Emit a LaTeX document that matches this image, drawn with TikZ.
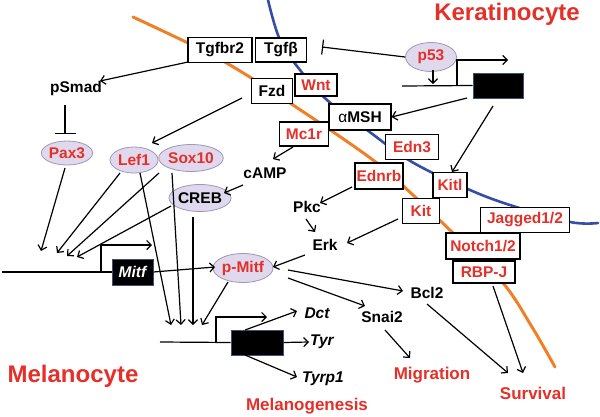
\documentclass[tikz,border=0pt]{standalone}
\usepackage{fontspec}
\setmainfont{Liberation Sans}
\usetikzlibrary{arrows.meta,shapes.geometric,calc}
\definecolor{myred}{RGB}{228,48,40}
\definecolor{myorange}{RGB}{240,128,40}
\definecolor{myblue}{RGB}{52,78,165}
\definecolor{ellfill}{RGB}{224,216,236}
\definecolor{elldraw}{RGB}{160,150,182}
\definecolor{genedraw}{RGB}{60,80,120}
\tikzset{
  fnt/.style={font=\bfseries\fontsize{15.5}{16}\selectfont},
  box/.style={fnt, draw, line width=1.3pt, fill=white, inner sep=0pt, text=black},
  rbox/.style={box, text=myred},
  ell/.style={fnt, ellipse, draw=elldraw, line width=0.8pt, fill=ellfill, inner sep=0pt, text=myred},
  lbl/.style={fnt, inner sep=1pt, text=black},
  ilbl/.style={font=\bfseries\itshape\fontsize{15.5}{16}\selectfont, inner sep=1pt, text=black},
  outc/.style={font=\bfseries\fontsize{17}{18}\selectfont, inner sep=1pt, text=myred},
  cell/.style={font=\bfseries\fontsize{24}{26}\selectfont, inner sep=1pt, text=myred},
  gene/.style={fill=black, draw=genedraw, line width=0.6pt, inner sep=0pt},
  arr/.style={-{Straight Barb[length=4.5pt,width=9pt]}, line width=1.2pt},
  inhib/.style={line width=1.2pt},
  dna/.style={line width=1.2pt}
}
\begin{document}
\begin{tikzpicture}[x=1pt,y=-1pt]
\useasboundingbox (0,0) rectangle (600,416);
% membranes
\draw[myorange, line width=3pt, line cap=round] plot[smooth, tension=0.6] coordinates
  {(133,17) (190,44) (230,65) (290,103) (373,160) (413,195) (455,235) (503,283) (532,327) (555,367)};
\draw[myblue, line width=2.6pt, line cap=round] plot[smooth, tension=0.6] coordinates
  {(268,0) (280,40) (300,70) (327,100) (367,130) (412,162) (470,190) (513,206) (570,222) (598,223)};

% cell labels
\node[cell] (kera) at (507,14) {Keratinocyte};
\node[cell] (mela) at (73,376) {Melanocyte};

% boxes
\node[box, minimum width=64pt, minimum height=25pt] (Tgfbr2) at (220,50) {Tgfbr2};
\node[box, minimum width=51pt, minimum height=24pt] (Tgfb) at (281,50) {Tgfβ};
\node[box, minimum width=41pt, minimum height=25pt] (Fzd) at (272,91) {Fzd};
\node[rbox, minimum width=42pt, minimum height=22pt] (Wnt) at (316,85) {Wnt};
\node[box, minimum width=62pt, minimum height=26pt] (aMSH) at (360,117) {{\mdseries α}MSH};
\node[rbox, minimum width=49pt, minimum height=24pt] (Mc1r) at (304,134) {Mc1r};
\node[rbox, minimum width=53pt, minimum height=25pt] (Edn3) at (412,147) {Edn3};
\node[rbox, minimum width=48pt, minimum height=26pt] (Ednrb) at (379,176) {Ednrb};
\node[rbox, minimum width=34pt, minimum height=25pt] (Kitl) at (450,185) {Kitl};
\node[rbox, minimum width=37pt, minimum height=25pt] (Kit) at (421,211) {Kit};
\node[rbox, minimum width=89pt, minimum height=25pt] (Jag) at (525,220) {Jagged1/2};
\node[rbox, minimum width=74pt, minimum height=26pt] (Notch) at (483,246) {Notch1/2};
\node[rbox, minimum width=62pt, minimum height=22pt] (RBPJ) at (484,272) {RBP-J};

% ellipses
\node[ell, minimum width=51pt, minimum height=29pt] (p53) at (431,57) {p53};
\node[ell, minimum width=49pt, minimum height=24pt] (Pax3) at (67,153) {Pax3};
\node[ell, minimum width=48pt, minimum height=26pt] (Lef1) at (134,160) {Lef1};
\node[ell, minimum width=51pt, minimum height=27pt] (Sox10) at (191,158) {Sox10};
\node[ell, minimum width=50pt, minimum height=27pt, text=black] (CREB) at (200,198) {CREB};
\node[ell, minimum width=60pt, minimum height=29pt] (pMitf) at (243,268) {p-Mitf};

% plain labels
\node[lbl] (pSmad) at (76,88) {pSmad};
\node[lbl] (cAMP) at (265,173) {cAMP};
\node[lbl] (Pkc) at (307,207) {Pkc};
\node[lbl] (Erk) at (325,245) {Erk};
\node[lbl] (Bcl2) at (427,293) {Bcl2};
\node[lbl] (Snai2) at (382,317) {Snai2};
\node[ilbl] (Dct) at (317,313) {Dct};
\node[ilbl] (Tyr) at (322,342) {Tyr};
\node[ilbl] (Tyrp1) at (323,379) {Tyrp1};
\node[outc] (Migr) at (432,375) {Migration};
\node[outc] (Surv) at (533,393) {Survival};
\node[outc] (Melg) at (307,406) {Melanogenesis};

% genes
\node[gene, minimum width=50pt, minimum height=25pt] (geneK) at (498,85.5) {};
\node[gene, minimum width=41pt, minimum height=26pt, text=white, font=\bfseries\itshape\fontsize{15.5}{16}\selectfont] (Mitf) at (132.5,272) {Mitf};
\node[gene, minimum width=52pt, minimum height=25pt] (geneT) at (257,342.5) {};

% free coordinates
\coordinate (kStart) at (402,86);
\coordinate (kProm) at (457,86);
\coordinate (kTSS) at (508,60);
\coordinate (mStart) at (2,272);
\coordinate (mProm) at (101,272);
\coordinate (mTSS) at (152,245);
\coordinate (tStart) at (160,342);
\coordinate (tProm) at (216,342);
\coordinate (tTSS) at (267,317);
\coordinate (m1) at (41,251);
\coordinate (m2) at (57,253);
\coordinate (m3) at (67,256);
\coordinate (m4) at (77,257);
\coordinate (t1) at (171,325);
\coordinate (t2) at (181,325);
\coordinate (t3) at (193,325);
\coordinate (t4) at (202,325);

% DNA lines and promoters
\draw[dna] (kStart) -- (geneK.west);
\draw[arr] (kProm) |- (kTSS);
\draw[dna] (mStart) -- (Mitf.west);
\draw[arr] (mProm) |- (mTSS);
\draw[dna] (tStart) -- (geneT.west);
\draw[arr] (tProm) |- (tTSS);
\draw[arr] (geneT.east) -- (Tyr.west);

% inhibitions
\draw[inhib, -{Bar[width=21pt,line width=1.2pt]}] ($(pSmad)+(-11,17)$) -- ($(Pax3)+(-2,-19)$);
\draw[inhib, -{Bar[width=15pt,line width=1.2pt]}] (p53.west) -- ($(Tgfb)+(41,-3)$);

% arrows
\draw[arr] ($(Tgfbr2)+(-32,12)$) -- ($(pSmad)+(24,-7)$);
\draw[arr] ($(Fzd)+(-30,7)$) -- ($(Lef1)+(18,-17)$);
\draw[arr] ($(p53)+(2,13)$) -- ($(p53)+(2,27)$);
\draw[arr] ($(geneK)+(-31,12.5)$) -- (aMSH.east);
\draw[arr] ($(geneK)+(-5,20.5)$) -- ($(Kitl)+(2,-13)$);
\draw[arr] ($(Mc1r)+(-11,13)$) -- ($(cAMP)+(8,-14)$);
\draw[arr] ($(cAMP)+(-22,12)$) -- ($(CREB)+(24,-5)$);
\draw[arr] ($(Ednrb)+(-27,11)$) -- ($(Pkc)+(13,-4)$);
\draw[arr] ($(Pkc)+(-1,12)$) -- ($(Erk)+(-10,-13)$);
\draw[arr] ($(Kit)+(-23,8)$) -- ($(Erk)+(22,-2)$);
\draw[arr] ($(Erk)+(-20,10)$) -- ($(pMitf)+(30,-1)$);
\draw[arr] (Mitf.east) -- ($(pMitf)+(-28,-1)$);
\draw[arr] ($(pMitf)+(45,2)$) -- ($(Bcl2)+(-24,-2)$);
\draw[arr] ($(pMitf)+(45,10)$) -- ($(Snai2)+(-17,-11)$);
\draw[arr] ($(Snai2)+(3,13)$) -- ($(Migr)+(-22,-17)$);
\draw[arr] ($(Bcl2)+(0,11)$) -- ($(Surv)+(-25,-20)$);
\draw[arr] ($(RBPJ)+(9,14)$) -- ($(Surv)+(-10,-20)$);
\draw[arr] ($(Pax3)+(-2,15)$) -- (m1);
\draw[arr] ($(Lef1)+(-14,13)$) -- (m2);
\draw[arr] ($(Sox10)+(-32,15)$) -- (m3);
\draw[arr] ($(CREB)+(-29,8)$) -- (m4);
\draw[arr] ($(Lef1)+(6,13)$) -- (t1);
\draw[arr] ($(Sox10)+(-19,15)$) -- (t2);
\draw[arr] ($(CREB)+(-7,19)$) -- (t3);
\draw[arr] ($(pMitf)+(-15,14)$) -- (t4);
\draw[arr] ($(geneT)+(-12,-12.5)$) -- ($(Dct)+(-20,-2)$);
\draw[arr] ($(geneT)+(-12,12.5)$) -- ($(Tyrp1)+(-26,-2)$);
\end{tikzpicture}
\end{document}
